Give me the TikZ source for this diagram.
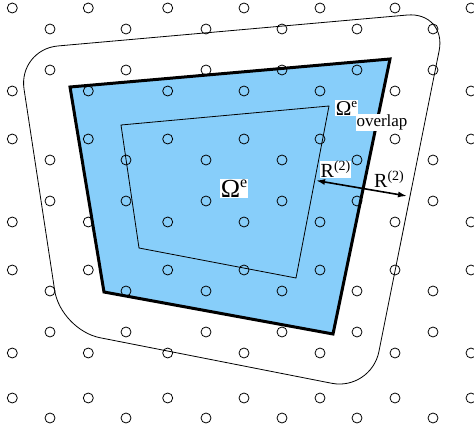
\documentclass[tikz,border=0pt]{standalone}
\usepackage{fontspec}
\setmainfont{Liberation Serif}
\usetikzlibrary{arrows.meta}
\definecolor{regionblue}{RGB}{135,206,250}
\newcommand{\hsup}[3]{\raisebox{#1}{\fontsize{#2}{#2}\selectfont #3}}
\tikzset{
  dot/.style={draw=black, line width=0.8pt},
  thickedge/.style={draw=black, line width=3pt, line join=miter},
  thinedge/.style={draw=black, line width=0.8pt},
  lbl/.style={fill=white, inner sep=1pt, text=black},
  dimarrow/.style={line width=1.6pt, {Latex[length=9pt,width=6pt]}-{Latex[length=9pt,width=6pt]}}
}
\begin{document}
\begin{tikzpicture}[x=1pt,y=-1pt]
\useasboundingbox (0,0) rectangle (474,430);
% blue element region
\fill[regionblue] (70,87) -- (390,59) -- (333,334) -- (104,292) -- cycle;
\draw[thickedge] (70,87) -- (390,59) -- (333,334) -- (104,292) -- cycle;
% inner quadrilateral
\draw[thinedge] (121,125) -- (329,106) -- (296,278) -- (139,248) -- cycle;
% outer rounded overlap boundary
\draw[thinedge, rounded corners=40pt] (18,49.5) -- (447,11.5) -- (371,391) -- (60.7,330) -- cycle;
% grid of points
\foreach \y in {8,91,139,222,270,353,398}{
  \foreach \x in {12.3,88.3,167.7,244,320,395,471}{
    \draw[dot] (\x,\y) circle (5pt);
  }
}
\foreach \y in {29,70,160,201,291,332,418}{
  \foreach \x in {50,126,206,282,357,433}{
    \draw[dot] (\x,\y) circle (5pt);
  }
}
% dimension arrow
\coordinate (ainner) at (316,180.5);
\coordinate (aouter) at (407,196);
\draw[dimarrow] (ainner) -- (aouter);
% labels
\node[lbl, font=\fontsize{26}{28}\selectfont] (omegae) at (234,188.5) {Ω\hsup{9.5pt}{16}{e}};
\node[lbl, font=\fontsize{21}{23}\selectfont] (omegaov) at (346.5,108) {Ω\hsup{8pt}{13}{e}};
\node[lbl, font=\fontsize{17}{19}\selectfont, inner sep=0.5pt] (overlap) at (382,122.5) {overlap};
\node[lbl, font=\fontsize{20}{22}\selectfont, inner sep=0.5pt] (rleft) at (335.5,169.5) {R\hsup{7pt}{14}{(2)}};
\node[lbl, font=\fontsize{20}{22}\selectfont, inner sep=0.5pt] (rright) at (389,179.5) {R\hsup{7pt}{14}{(2)}};
\end{tikzpicture}
\end{document}
